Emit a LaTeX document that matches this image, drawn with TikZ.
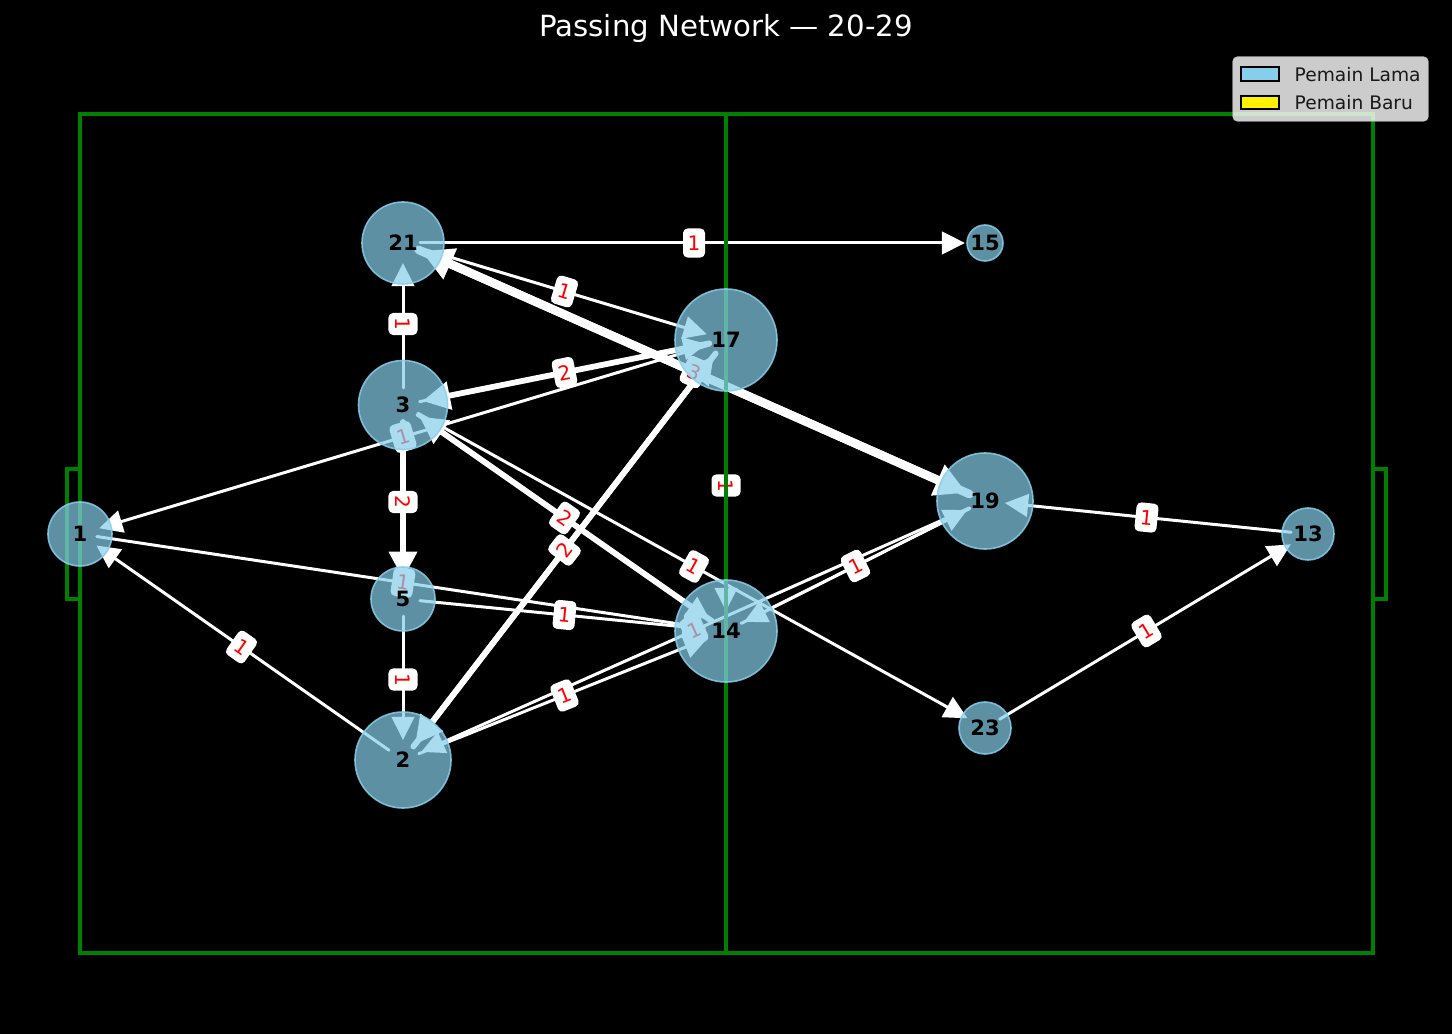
\documentclass[tikz,border=0pt]{standalone}
\usepackage{fontspec}
\setmainfont{DejaVu Sans}
\usetikzlibrary{arrows.meta}
\definecolor{skyb}{RGB}{135,206,235}
\definecolor{pitchg}{RGB}{0,128,0}
\definecolor{legbg}{RGB}{204,204,204}
\pgfdeclarelayer{back}
\pgfdeclarelayer{edges}
\pgfdeclarelayer{labels}
\pgfdeclarelayer{pitch}
\pgfdeclarelayer{front}
\pgfsetlayers{back,edges,labels,pitch,main,front}
\tikzset{
  eone/.style={white, line width=0.85pt, line cap=round, shorten <=0.17cm, shorten >=0.2cm,
    -{Triangle[length=6.6pt,width=6.4pt]}},
  etwo/.style={white, line width=1.65pt, line cap=round, shorten <=0.17cm, shorten >=0.2cm,
    -{Triangle[length=7.8pt,width=7.8pt]}},
  ethree/.style={white, line width=2.4pt, line cap=round, shorten <=0.17cm, shorten >=0.2cm,
    -{Triangle[length=9pt,width=9pt]}},
  lbl/.style={fill=white, rounded corners=1.3pt, text=red, font=\fontsize{5.7pt}{6pt}\selectfont,
    minimum width=0.22cm, minimum height=0.29cm, inner sep=0pt, sloped, midway},
  player/.style={circle, fill=skyb, fill opacity=0.7, text opacity=1, draw=skyb, draw opacity=0.85,
    line width=0.45pt, inner sep=0pt, text=black, font=\fontsize{6pt}{6pt}\selectfont\bfseries},
  pline/.style={draw=pitchg, line width=1.05pt},
}
\begin{document}
\begin{tikzpicture}[x=0.01cm, y=-0.01cm]
\begin{pgfonlayer}{back}
  \fill[black] (0,0) rectangle (1452,1034);
\end{pgfonlayer}
\useasboundingbox (0,0) rectangle (1452,1034);

% players
\node[player, minimum size=0.82cm] (n21) at (403,243) {21};
\node[player, minimum size=0.36cm] (n15) at (985,243) {15};
\node[player, minimum size=1.02cm] (n17) at (726,340) {17};
\node[player, minimum size=0.89cm] (n3)  at (403,405) {3};
\node[player, minimum size=0.64cm] (n1)  at (80,534)  {1};
\node[player, minimum size=0.96cm] (n19) at (985,501) {19};
\node[player, minimum size=0.52cm] (n13) at (1308,534) {13};
\node[player, minimum size=0.64cm] (n5)  at (403,599) {5};
\node[player, minimum size=1.02cm] (n14) at (726,631) {14};
\node[player, minimum size=0.52cm] (n23) at (985,728) {23};
\node[player, minimum size=0.96cm] (n2)  at (403,760) {2};

% passes
\begin{pgfonlayer}{edges}
  \draw[eone]   (n21.center) -- (n15.center);
  \draw[eone]   (n3.center)  -- (n21.center);
  \draw[eone]   (n21.center) -- (n17.center);
  \draw[ethree] (n21.center) -- (n19.center);
  \draw[ethree] (n19.center) -- (n21.center);
  \draw[etwo]   (n17.center) -- (n3.center);
  \draw[eone]   (n3.center)  -- (n17.center);
  \draw[eone]   (n17.center) -- (n1.center);
  \draw[etwo]   (n3.center)  -- (n5.center);
  \draw[etwo]   (n14.center) -- (n3.center);
  \draw[eone]   (n3.center)  -- (n14.center);
  \draw[etwo]   (n2.center)  -- (n17.center);
  \draw[etwo]   (n17.center) -- (n2.center);
  \draw[eone]   (n3.center)  -- (n23.center);
  \draw[eone]   (n17.center) -- (n14.center);
  \draw[eone]   (n1.center)  -- (n14.center);
  \draw[eone]   (n5.center)  -- (n14.center);
  \draw[eone]   (n5.center)  -- (n2.center);
  \draw[eone]   (n2.center)  -- (n1.center);
  \draw[eone]   (n2.center)  -- (n14.center);
  \draw[eone]   (n19.center) -- (n2.center);
  \draw[eone]   (n14.center) -- (n19.center);
  \draw[eone]   (n19.center) -- (n14.center);
  \draw[eone]   (n13.center) -- (n19.center);
  \draw[eone]   (n23.center) -- (n13.center);
\end{pgfonlayer}

% pass counts
\begin{pgfonlayer}{labels}
  \path (n21.center) -- node[lbl] (l1) {1} (n15.center);
  \path (n21.center) -- node[lbl] (l2) {1} (n3.center);
  \path (n21.center) -- node[lbl] (l3) {1} (n17.center);
  \path (n21.center) -- node[lbl] (l4) {3} (n19.center);
  \path (n3.center)  -- node[lbl] (l5) {2} (n17.center);
  \path (n1.center)  -- node[lbl] (l6) {1} (n17.center);
  \path (n3.center)  -- node[lbl] (l7) {2} (n5.center);
  \path (n3.center)  -- node[lbl] (l8) {2} (n14.center);
  \path (n2.center)  -- node[lbl] (l9) {2} (n17.center);
  \path (n3.center)  -- node[lbl] (l10) {1} (n23.center);
  \path (n17.center) -- node[lbl] (l11) {1} (n14.center);
  \path (n1.center)  -- node[lbl] (l12) {1} (n14.center);
  \path (n5.center)  -- node[lbl] (l13) {1} (n14.center);
  \path (n5.center)  -- node[lbl] (l14) {1} (n2.center);
  \path (n1.center)  -- node[lbl] (l15) {1} (n2.center);
  \path (n2.center)  -- node[lbl] (l16) {1} (n14.center);
  \path (n2.center)  -- node[lbl] (l17) {1} (n19.center);
  \path (n14.center) -- node[lbl] (l18) {1} (n19.center);
  \path (n19.center) -- node[lbl] (l19) {1} (n13.center);
  \path (n23.center) -- node[lbl] (l20) {1} (n13.center);
\end{pgfonlayer}

% pitch
\begin{pgfonlayer}{pitch}
  \draw[pline] (80,114) rectangle (1373,953);
  \draw[pline] (726,114) -- (726,953);
  \draw[pline] (80,469) -- (67,469) -- (67,599) -- (80,599);
  \draw[pline] (1373,469) -- (1386,469) -- (1386,599) -- (1373,599);
\end{pgfonlayer}

% title and legend
\begin{pgfonlayer}{front}
  \node[text=white, font=\fontsize{8.3pt}{9pt}\selectfont] (title) at (726,28) {Passing Network — 20-29};
  \draw[fill=white, fill opacity=0.8, draw=legbg, draw opacity=0.8, line width=0.3pt, rounded corners=1.2pt]
    (1233,57) rectangle (1428,121);
  \node[draw=black, fill=skyb, line width=0.45pt, minimum width=0.38cm, minimum height=0.135cm, inner sep=0pt] (kold) at (1260,74) {};
  \node[draw=black, fill=yellow, line width=0.45pt, minimum width=0.38cm, minimum height=0.135cm, inner sep=0pt] (knew) at (1260,102.5) {};
  \node[anchor=west, inner sep=0pt, text=black!90, font=\fontsize{5.3pt}{6pt}\selectfont] (told) at (1294,75) {Pemain Lama};
  \node[anchor=west, inner sep=0pt, text=black!90, font=\fontsize{5.3pt}{6pt}\selectfont] (tnew) at (1294,103) {Pemain Baru};
\end{pgfonlayer}
\end{tikzpicture}
\end{document}
